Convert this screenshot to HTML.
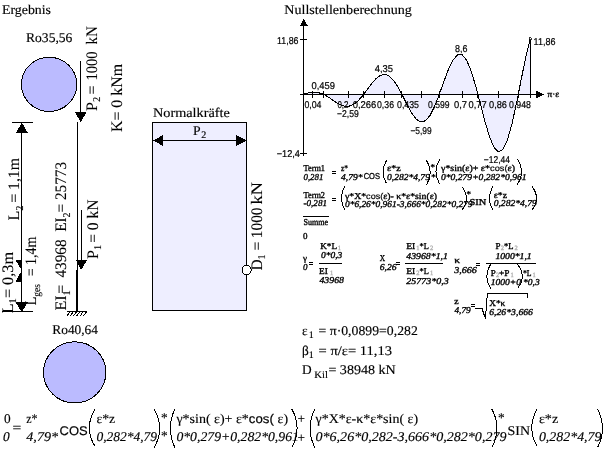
<!DOCTYPE html>
<html><head><meta charset="utf-8"><title>Ergebnis</title>
<style>
html,body{margin:0;padding:0;background:#fff;}
body{width:607px;height:452px;overflow:hidden;}
svg{display:block;will-change:transform;shape-rendering:crispEdges;}
text{font-family:'Liberation Serif', serif;fill:#000;white-space:pre;text-rendering:geometricPrecision;stroke:#000;stroke-width:0.15px;}
text.sm{stroke-width:0.35px;}
text.v{stroke-width:0.1px;}
text.a,tspan.a{font-family:'Liberation Sans', sans-serif;stroke-width:0.2px;}
</style></head><body>
<svg width="607" height="452" viewBox="0 0 607 452">
<rect width="607" height="452" fill="#fff"/>
<text x="2" y="13.5" font-size="13.33" textLength="49" lengthAdjust="spacingAndGlyphs">Ergebnis</text>
<text x="26" y="41.5" font-size="13.33" textLength="46.4" lengthAdjust="spacingAndGlyphs">Ro35,56</text>
<ellipse cx="49.15" cy="84.35" rx="27.7" ry="27.1" fill="#bbbbff" stroke="#000" stroke-width="1"/>
<text x="52.3" y="333.5" font-size="13.33" textLength="45.7" lengthAdjust="spacingAndGlyphs">Ro40,64</text>
<ellipse cx="74.7" cy="372.4" rx="31.2" ry="30.6" fill="#bbbbff" stroke="#000" stroke-width="1"/>
<line x1="80.5" y1="61" x2="80.5" y2="113" stroke="#000" stroke-width="1"/>
<polygon points="75,112 86.5,112 80.7,122.3" fill="#000" stroke="none"/>
<line x1="77.5" y1="122" x2="77.5" y2="270" stroke="#000" stroke-width="1"/>
<line x1="77" y1="270" x2="77" y2="312" stroke="#000" stroke-width="2"/>
<line x1="81.2" y1="209.5" x2="81.2" y2="261" stroke="#000" stroke-width="1"/>
<polygon points="76,260.2 87,260.2 81.2,270" fill="#000" stroke="none"/>
<line x1="67" y1="311.5" x2="87" y2="311.5" stroke="#000" stroke-width="1"/>
<line x1="69.8" y1="312" x2="67.0" y2="315.8" stroke="#000" stroke-width="1"/>
<line x1="73.1" y1="312" x2="70.3" y2="315.8" stroke="#000" stroke-width="1"/>
<line x1="76.39999999999999" y1="312" x2="73.6" y2="315.8" stroke="#000" stroke-width="1"/>
<line x1="79.69999999999999" y1="312" x2="76.89999999999999" y2="315.8" stroke="#000" stroke-width="1"/>
<line x1="83.0" y1="312" x2="80.2" y2="315.8" stroke="#000" stroke-width="1"/>
<line x1="86.3" y1="312" x2="83.5" y2="315.8" stroke="#000" stroke-width="1"/>
<line x1="21.5" y1="122" x2="21.5" y2="311" stroke="#000" stroke-width="1"/>
<line x1="12" y1="122.5" x2="33" y2="122.5" stroke="#000" stroke-width="1"/>
<polygon points="21.8,122.5 16,133 27.8,133" fill="#000" stroke="none"/>
<line x1="2" y1="311.5" x2="32.5" y2="311.5" stroke="#000" stroke-width="1"/>
<polygon points="15,301.5 28.3,301.5 21.7,312" fill="#000" stroke="none"/>
<polygon points="15.6,260 22,260 22,271" fill="#000" stroke="none"/>
<polygon points="15.6,281.5 22,281.5 22,270" fill="#000" stroke="none"/>
<text class="v" transform="translate(96.7 111) rotate(-90)" font-size="16">P<tspan font-size="10.5" dy="3.5">2</tspan></text>
<text class="v" transform="translate(96.7 94.4) rotate(-90)" font-size="16">=</text>
<text class="v" transform="translate(96.7 80.4) rotate(-90)" font-size="16" textLength="29" lengthAdjust="spacingAndGlyphs">1000</text>
<text class="v" transform="translate(96.7 44.5) rotate(-90)" font-size="16" textLength="18.3" lengthAdjust="spacingAndGlyphs">kN</text>
<text class="v" transform="translate(121.5 132) rotate(-90)" font-size="16" textLength="68" lengthAdjust="spacingAndGlyphs">K= 0 kNm</text>
<text class="v" transform="translate(12.8 313.2) rotate(-90)" font-size="16">L</text>
<text class="v" transform="translate(12.8 303.4) rotate(-90)" font-size="16" textLength="51.4" lengthAdjust="spacingAndGlyphs"><tspan font-size="10.5" dy="3.5">1</tspan><tspan dy="-3.5">= 0,3m</tspan></text>
<text class="v" transform="translate(19.2 220.5) rotate(-90)" font-size="16">L<tspan font-size="10.5" dy="3.5">2</tspan></text>
<text class="v" transform="translate(19.2 202.8) rotate(-90)" font-size="16" textLength="44.8" lengthAdjust="spacingAndGlyphs">= 1,1m</text>
<text class="v" transform="translate(36.3 305.6) rotate(-90)" font-size="16" textLength="21.6" lengthAdjust="spacingAndGlyphs">L<tspan font-size="10.5" dy="3.5">ges</tspan></text>
<text class="v" transform="translate(36.3 276.3) rotate(-90)" font-size="16" textLength="39.7" lengthAdjust="spacingAndGlyphs">= 1,4m</text>
<text class="v" transform="translate(66.4 310.5) rotate(-90)" font-size="16">EI<tspan font-size="10.5" dy="3.5">1</tspan><tspan dy="-3.5" dx="-3.6">=</tspan></text>
<text class="v" transform="translate(66.4 277.6) rotate(-90)" font-size="16" textLength="38.2" lengthAdjust="spacingAndGlyphs">43968</text>
<text class="v" transform="translate(66.4 231.8) rotate(-90)" font-size="16" textLength="69.8" lengthAdjust="spacingAndGlyphs">EI<tspan font-size="10.5" dy="3.5">2</tspan><tspan dy="-3.5">= 25773</tspan></text>
<text class="v" transform="translate(97.8 259) rotate(-90)" font-size="16">P<tspan font-size="10.5" dy="3.5">1</tspan></text>
<text class="v" transform="translate(97.8 242.8) rotate(-90)" font-size="16" textLength="43.2" lengthAdjust="spacingAndGlyphs">= 0 kN</text>
<text x="153" y="116.8" font-size="13.33" textLength="76.8" lengthAdjust="spacingAndGlyphs">Normalkräfte</text>
<rect x="152.5" y="122.5" width="94" height="188" fill="#eeeeff" stroke="#000" stroke-width="1"/>
<line x1="156" y1="140.5" x2="244" y2="140.5" stroke="#000" stroke-width="1"/>
<polygon points="152.8,140.5 163,135.2 163,145.8" fill="#000" stroke="none"/>
<polygon points="247,140.5 236.4,135.2 236.4,145.8" fill="#000" stroke="none"/>
<text x="193" y="134.7" font-size="13.33" textLength="7.6" lengthAdjust="spacingAndGlyphs">P</text>
<text x="201.3" y="138.4" font-size="10">2</text>
<circle cx="246.6" cy="270" r="4.6" fill="#fff" stroke="#000" stroke-width="1"/>
<text class="v" transform="translate(261.5 270.5) rotate(-90)" font-size="16" textLength="63" lengthAdjust="spacingAndGlyphs">D<tspan font-size="10.5" dy="3.5">1</tspan><tspan dy="-3.5"> = 1000</tspan></text>
<text class="v" transform="translate(261.5 204.4) rotate(-90)" font-size="16" textLength="22.4" lengthAdjust="spacingAndGlyphs">kN</text>
<text x="284.3" y="13.5" font-size="13.33" textLength="127.5" lengthAdjust="spacingAndGlyphs">Nullstellenberechnung</text>
<path d="M303.2 94.4 L307.74 93.09 L312.28 92.28 L316.81 92.33 L321.35 93.46 L323.6 94.4 L325.89 95.6 L330.43 98.49 L334.97 101.62 L339.5 104.39 L344.04 106.14 L348.58 106.37 L353.12 104.76 L357.66 101.29 L362.19 96.25 L363.56 94.52 L366.73 90.26 L371.27 84.15 L375.81 78.87 L380.35 75.35 L384.88 74.29 L389.42 76.12 L393.96 80.82 L398.5 87.95 L401.9 94.37 L403.04 96.62 L407.57 105.66 L412.11 113.75 L416.65 119.57 L421.19 122.07 L425.73 120.59 L430.26 115.04 L434.8 105.89 L439.11 94.84 L439.34 94.21 L443.88 81.51 L448.42 69.55 L452.95 60.13 L457.49 54.81 L462.03 54.68 L466.57 60.15 L471.11 70.9 L475.64 85.81 L477.91 94.3 L480.18 103.14 L484.72 120.67 L489.26 136.04 L493.8 147.03 L498.33 151.88 L502.87 149.56 L507.41 139.96 L511.95 123.94 L516.49 103.25 L518.3 94.2 L521.02 80.35 L525.56 58.12 L530.1 39.47 L530.1 94.4 L303.2 94.4 Z" fill="#eeeeff" stroke="none"/>
<path d="M303.2 94.4 L307.74 93.09 L312.28 92.28 L316.81 92.33 L321.35 93.46 L323.6 94.4 L325.89 95.6 L330.43 98.49 L334.97 101.62 L339.5 104.39 L344.04 106.14 L348.58 106.37 L353.12 104.76 L357.66 101.29 L362.19 96.25 L363.56 94.52 L366.73 90.26 L371.27 84.15 L375.81 78.87 L380.35 75.35 L384.88 74.29 L389.42 76.12 L393.96 80.82 L398.5 87.95 L401.9 94.37 L403.04 96.62 L407.57 105.66 L412.11 113.75 L416.65 119.57 L421.19 122.07 L425.73 120.59 L430.26 115.04 L434.8 105.89 L439.11 94.84 L439.34 94.21 L443.88 81.51 L448.42 69.55 L452.95 60.13 L457.49 54.81 L462.03 54.68 L466.57 60.15 L471.11 70.9 L475.64 85.81 L477.91 94.3 L480.18 103.14 L484.72 120.67 L489.26 136.04 L493.8 147.03 L498.33 151.88 L502.87 149.56 L507.41 139.96 L511.95 123.94 L516.49 103.25 L518.3 94.2 L521.02 80.35 L525.56 58.12 L530.1 39.47" fill="none" stroke="#000" stroke-width="1" stroke-linejoin="round"/>
<line x1="530.5" y1="40" x2="530.5" y2="94.4" stroke="#000" stroke-width="1"/>
<circle cx="530.3" cy="38.6" r="1.3" fill="#fff" stroke="#000" stroke-width="0.8"/>
<line x1="303.5" y1="25" x2="303.5" y2="156" stroke="#000" stroke-width="1"/>
<polygon points="303.8,18.5 300,25.6 307.6,25.6" fill="#000" stroke="none"/>
<line x1="300" y1="94.5" x2="537" y2="94.5" stroke="#000" stroke-width="1"/>
<polygon points="544,94.5 536.3,90.6 536.3,98.5" fill="#000" stroke="none"/>
<line x1="300" y1="39.5" x2="307" y2="39.5" stroke="#000" stroke-width="1"/>
<line x1="300" y1="153.5" x2="307" y2="153.5" stroke="#000" stroke-width="1"/>
<line x1="312.5" y1="91" x2="312.5" y2="98" stroke="#000" stroke-width="1"/>
<line x1="323.5" y1="91" x2="323.5" y2="98" stroke="#000" stroke-width="1"/>
<line x1="348.5" y1="91" x2="348.5" y2="98" stroke="#000" stroke-width="1"/>
<line x1="363.5" y1="91" x2="363.5" y2="98" stroke="#000" stroke-width="1"/>
<line x1="384.5" y1="91" x2="384.5" y2="98" stroke="#000" stroke-width="1"/>
<line x1="401.5" y1="91" x2="401.5" y2="98" stroke="#000" stroke-width="1"/>
<line x1="421.5" y1="91" x2="421.5" y2="98" stroke="#000" stroke-width="1"/>
<line x1="439.5" y1="91" x2="439.5" y2="98" stroke="#000" stroke-width="1"/>
<line x1="462.5" y1="91" x2="462.5" y2="98" stroke="#000" stroke-width="1"/>
<line x1="477.5" y1="91" x2="477.5" y2="98" stroke="#000" stroke-width="1"/>
<line x1="498.5" y1="91" x2="498.5" y2="98" stroke="#000" stroke-width="1"/>
<line x1="518.5" y1="91" x2="518.5" y2="98" stroke="#000" stroke-width="1"/>
<line x1="530.5" y1="91" x2="530.5" y2="98" stroke="#000" stroke-width="1"/>
<text x="277" y="44" font-size="9.9" class="a" textLength="21.5" lengthAdjust="spacingAndGlyphs">11,86</text>
<text x="276.7" y="157" font-size="9.9" class="a" textLength="23.3" lengthAdjust="spacingAndGlyphs">−12,4</text>
<text x="304.4" y="108" font-size="9.9" class="a" textLength="17.1" lengthAdjust="spacingAndGlyphs">0,04</text>
<text x="311.5" y="89" font-size="9.9" class="a" textLength="23.5" lengthAdjust="spacingAndGlyphs">0,459</text>
<text x="337.4" y="108" font-size="9.9" class="a" textLength="11.1" lengthAdjust="spacingAndGlyphs">0,2</text>
<text x="337" y="117.3" font-size="9.9" class="a" textLength="21.8" lengthAdjust="spacingAndGlyphs">−2,59</text>
<text x="352.7" y="108" font-size="9.9" class="a" textLength="23.7" lengthAdjust="spacingAndGlyphs">0,266</text>
<text x="377" y="108" font-size="9.9" class="a" textLength="17" lengthAdjust="spacingAndGlyphs">0,36</text>
<text x="374.7" y="72.3" font-size="9.9" class="a" textLength="18.3" lengthAdjust="spacingAndGlyphs">4,35</text>
<text x="397" y="108" font-size="9.9" class="a" textLength="22" lengthAdjust="spacingAndGlyphs">0,435</text>
<text x="410.4" y="134" font-size="9.9" class="a" textLength="21.3" lengthAdjust="spacingAndGlyphs">−5,99</text>
<text x="428" y="108" font-size="9.9" class="a" textLength="21.5" lengthAdjust="spacingAndGlyphs">0,599</text>
<text x="454" y="108" font-size="9.9" class="a" textLength="13" lengthAdjust="spacingAndGlyphs">0,7</text>
<text x="455" y="51.5" font-size="9.9" class="a" textLength="12.4" lengthAdjust="spacingAndGlyphs">8,6</text>
<text x="468.6" y="108" font-size="9.9" class="a" textLength="18.1" lengthAdjust="spacingAndGlyphs">0,77</text>
<text x="489" y="108" font-size="9.9" class="a" textLength="18" lengthAdjust="spacingAndGlyphs">0,86</text>
<text x="509" y="108" font-size="9.9" class="a" textLength="22" lengthAdjust="spacingAndGlyphs">0,948</text>
<text x="533.6" y="44.7" font-size="9.9" class="a" textLength="21.9" lengthAdjust="spacingAndGlyphs">11,86</text>
<text x="483.8" y="162.8" font-size="9.9" class="a" textLength="26.2" lengthAdjust="spacingAndGlyphs">−12,44</text>
<text x="547.5" y="96.7" font-size="9" class="sm" textLength="11.7" lengthAdjust="spacingAndGlyphs">π·ε</text>
<text x="303.5" y="170.6" font-size="9" class="sm" textLength="21.5" lengthAdjust="spacingAndGlyphs">Term1</text>
<text x="303.5" y="179.8" font-size="9" class="sm" font-style="italic" textLength="19.8" lengthAdjust="spacingAndGlyphs">0,281</text>
<path d="M332 171.5h4M332 173.5h4" stroke="#000" stroke-width="1" fill="none"/>
<text x="341" y="170.6" font-size="9" class="sm" textLength="7" lengthAdjust="spacingAndGlyphs">z*</text>
<text x="341" y="179.8" font-size="9" class="sm" font-style="italic" textLength="21.5" lengthAdjust="spacingAndGlyphs">4,79*</text>
<text x="363.7" y="179.1" font-size="8.6" class="a" textLength="16.3" lengthAdjust="spacingAndGlyphs" style="stroke-width:0.3px">COS</text>
<path d="M386.5 160.5 Q379.5 172.0 386.5 183.5" fill="none" stroke="#000" stroke-width="1"/>
<text x="387" y="170.6" font-size="9" class="sm" textLength="13.7" lengthAdjust="spacingAndGlyphs">ε*z</text>
<text x="387" y="179.8" font-size="9" class="sm" font-style="italic" textLength="42.9" lengthAdjust="spacingAndGlyphs">0,282*4,79</text>
<path d="M426.5 160.3 Q434.1 172.55 426.5 184.8" fill="none" stroke="#000" stroke-width="1"/>
<text x="430.6" y="170.3" font-size="9" class="sm">*</text>
<text x="431.3" y="180" font-size="9" class="sm">*</text>
<path d="M439.5 159.5 Q432.5 171.65 439.5 183.8" fill="none" stroke="#000" stroke-width="1"/>
<text x="441" y="170.8" font-size="9" class="sm" textLength="74" lengthAdjust="spacingAndGlyphs">γ*sin(ε)+ ε*<tspan class="a" font-size="8.4">cos(</tspan>ε)</text>
<text x="441" y="180" font-size="9" class="sm" font-style="italic" textLength="85.5" lengthAdjust="spacingAndGlyphs">0*0,279+0,282*0,961</text>
<path d="M517.3 159 Q525.7 171.8 517.3 184.6" fill="none" stroke="#000" stroke-width="1"/>
<text x="303.5" y="197.5" font-size="9" class="sm" textLength="21.5" lengthAdjust="spacingAndGlyphs">Term2</text>
<text x="303.5" y="206.2" font-size="9" class="sm" font-style="italic" textLength="23.5" lengthAdjust="spacingAndGlyphs">-0,281</text>
<path d="M332 198.5h4M332 200.5h4" stroke="#000" stroke-width="1" fill="none"/>
<path d="M344.7 186 Q338.3 197.9 344.7 209.8" fill="none" stroke="#000" stroke-width="1"/>
<text x="345" y="198.6" font-size="9" class="sm" textLength="92" lengthAdjust="spacingAndGlyphs">γ*X*<tspan class="a" font-size="8.4">cos(</tspan>ε)- κ*ε*sin(ε)</text>
<text x="345" y="206.6" font-size="9" class="sm" font-style="italic" textLength="127.5" lengthAdjust="spacingAndGlyphs">0*6,26*0,961-3,666*0,282*0,279</text>
<path d="M461.8 186.5 Q471.2 198.4 461.8 210.3" fill="none" stroke="#000" stroke-width="1"/>
<text x="466.4" y="197.3" font-size="9" class="sm">*</text>
<text x="469.5" y="204.8" font-size="9" class="sm" textLength="16.8" lengthAdjust="spacingAndGlyphs">SIN</text>
<path d="M492.9 186.5 Q485.70000000000005 198.25 492.9 210" fill="none" stroke="#000" stroke-width="1"/>
<text x="493.7" y="198.4" font-size="9" class="sm" textLength="13.3" lengthAdjust="spacingAndGlyphs">ε*z</text>
<text x="493.7" y="205.6" font-size="9" class="sm" font-style="italic" textLength="43.1" lengthAdjust="spacingAndGlyphs">0,282*4,79</text>
<path d="M532 186.5 Q541.0 198.25 532 210" fill="none" stroke="#000" stroke-width="1"/>
<line x1="303" y1="216.5" x2="328.6" y2="216.5" stroke="#000" stroke-width="1"/>
<text x="303.5" y="225.4" font-size="9" class="sm" textLength="24.5" lengthAdjust="spacingAndGlyphs">Summe</text>
<text x="303" y="239.2" font-size="9" class="sm">0</text>
<text x="303" y="260.6" font-size="9" class="sm">γ</text>
<text x="303" y="269.8" font-size="9" class="sm" font-style="italic">0</text>
<path d="M309 262.5h4M309 264.5h4" stroke="#000" stroke-width="1" fill="none"/>
<text x="320.2" y="248.6" font-size="9" class="sm" textLength="16.8" lengthAdjust="spacingAndGlyphs">K*L</text>
<text x="337.8" y="249.5" font-size="6.5" class="sm" style="fill:#b4b4b4;stroke:#b4b4b4">1</text>
<text x="321" y="258.4" font-size="9" class="sm" font-style="italic" textLength="21.3" lengthAdjust="spacingAndGlyphs">0*0,3</text>
<line x1="319" y1="263.5" x2="342" y2="263.5" stroke="#000" stroke-width="1"/>
<text x="319" y="273.7" font-size="9" class="sm" textLength="8.8" lengthAdjust="spacingAndGlyphs">EI</text>
<text x="330" y="274.7" font-size="6.5" class="sm" style="fill:#b4b4b4;stroke:#b4b4b4">1</text>
<text x="319.4" y="283.2" font-size="9" class="sm" font-style="italic" textLength="24.6" lengthAdjust="spacingAndGlyphs">43968</text>
<text x="379.7" y="261.2" font-size="9" class="sm" textLength="5.3" lengthAdjust="spacingAndGlyphs">X</text>
<text x="379.7" y="270" font-size="9" class="sm" font-style="italic" textLength="16.8" lengthAdjust="spacingAndGlyphs">6,26</text>
<path d="M396.3 262.5h4M396.3 264.5h4" stroke="#000" stroke-width="1" fill="none"/>
<text x="406.3" y="248.8" font-size="9" class="sm" textLength="9.0" lengthAdjust="spacingAndGlyphs">EI</text>
<text x="416.2" y="249.8" font-size="6.5" class="sm" style="fill:#b4b4b4;stroke:#b4b4b4">1</text>
<text x="419.5" y="248.8" font-size="9" class="sm" textLength="9.3" lengthAdjust="spacingAndGlyphs">*L</text>
<text x="430" y="249.8" font-size="6.5" class="sm" style="fill:#b4b4b4;stroke:#b4b4b4">2</text>
<text x="406.3" y="258.9" font-size="9" class="sm" font-style="italic" textLength="41.6" lengthAdjust="spacingAndGlyphs">43968*1,1</text>
<line x1="405.4" y1="263.5" x2="443" y2="263.5" stroke="#000" stroke-width="1"/>
<text x="406.3" y="273.9" font-size="9" class="sm" textLength="9.0" lengthAdjust="spacingAndGlyphs">EI</text>
<text x="416.2" y="274.9" font-size="6.5" class="sm" style="fill:#b4b4b4;stroke:#b4b4b4">2</text>
<text x="419.5" y="273.9" font-size="9" class="sm" textLength="9.3" lengthAdjust="spacingAndGlyphs">*L</text>
<text x="430" y="274.9" font-size="6.5" class="sm" style="fill:#b4b4b4;stroke:#b4b4b4">1</text>
<text x="406.3" y="283.7" font-size="9" class="sm" font-style="italic" textLength="42.5" lengthAdjust="spacingAndGlyphs">25773*0,3</text>
<text x="454.2" y="263" font-size="9" class="sm" textLength="5.8" lengthAdjust="spacingAndGlyphs">κ</text>
<text x="454.2" y="272.5" font-size="9" class="sm" font-style="italic" textLength="22.7" lengthAdjust="spacingAndGlyphs">3,666</text>
<path d="M476.3 263.5h4M476.3 265.5h4" stroke="#000" stroke-width="1" fill="none"/>
<text x="495.4" y="248.8" font-size="9" class="sm">P</text>
<text x="500.8" y="249.8" font-size="6.5" class="sm" style="fill:#b4b4b4;stroke:#b4b4b4">2</text>
<text x="504" y="248.8" font-size="9" class="sm" textLength="9.5" lengthAdjust="spacingAndGlyphs">*L</text>
<text x="514.4" y="249.8" font-size="6.5" class="sm" style="fill:#b4b4b4;stroke:#b4b4b4">2</text>
<text x="495.4" y="258.5" font-size="9" class="sm" font-style="italic" textLength="36.3" lengthAdjust="spacingAndGlyphs">1000*1,1</text>
<line x1="486" y1="263.5" x2="536.2" y2="263.5" stroke="#000" stroke-width="1"/>
<path d="M490.6 264.2 Q483.0 276.35 490.6 288.5" fill="none" stroke="#000" stroke-width="1"/>
<text x="490.7" y="275.5" font-size="9" class="sm">P</text>
<text x="496" y="276.5" font-size="6.5" class="sm" style="fill:#b4b4b4;stroke:#b4b4b4">2</text>
<text x="499" y="275.5" font-size="9" class="sm" textLength="10.5" lengthAdjust="spacingAndGlyphs">+P</text>
<text x="510.6" y="276.5" font-size="6.5" class="sm" style="fill:#b4b4b4;stroke:#b4b4b4">1</text>
<text x="490.7" y="284.8" font-size="9" class="sm" font-style="italic" textLength="30.3" lengthAdjust="spacingAndGlyphs">1000+0</text>
<path d="M517.5 264.5 Q527.0999999999999 276.5 517.5 288.5" fill="none" stroke="#000" stroke-width="1"/>
<text x="522.9" y="275.5" font-size="9" class="sm" textLength="8.6" lengthAdjust="spacingAndGlyphs">*L</text>
<text x="532.5" y="276.5" font-size="6.5" class="sm" style="fill:#b4b4b4;stroke:#b4b4b4">1</text>
<text x="523" y="284.8" font-size="9" class="sm" font-style="italic" textLength="16.7" lengthAdjust="spacingAndGlyphs">*0,3</text>
<text x="454.2" y="303.7" font-size="9" class="sm" textLength="4.4" lengthAdjust="spacingAndGlyphs">z</text>
<text x="454.4" y="313.1" font-size="9" class="sm" font-style="italic" textLength="16.4" lengthAdjust="spacingAndGlyphs">4,79</text>
<path d="M471 304.5h4M471 306.5h4" stroke="#000" stroke-width="1" fill="none"/>
<path d="M475 308.5 H482 L485.4 318.5 L487.4 293.5 H527.5 V297.5" fill="none" stroke="#000" stroke-width="1"/>
<text x="489.2" y="305.5" font-size="9" class="sm" textLength="16.0" lengthAdjust="spacingAndGlyphs">X*κ</text>
<text x="489.2" y="315.3" font-size="9" class="sm" font-style="italic" textLength="43.8" lengthAdjust="spacingAndGlyphs">6,26*3,666</text>
<text x="302" y="334.7" font-size="13.33">ε</text>
<text x="308.8" y="338" font-size="10">1</text>
<text x="318.5" y="334.7" font-size="13.33" textLength="99.3" lengthAdjust="spacingAndGlyphs">= π·0,0899=0,282</text>
<text x="302" y="354.5" font-size="13.33">β</text>
<text x="308.8" y="357.8" font-size="10">1</text>
<text x="318.5" y="354.5" font-size="13.33" textLength="73.6" lengthAdjust="spacingAndGlyphs">= π/ε= 11,13</text>
<text x="302" y="374.2" font-size="13.33">D</text>
<text x="314.3" y="378" font-size="10" textLength="13.7" lengthAdjust="spacingAndGlyphs">Kil</text>
<text x="328.4" y="374.2" font-size="13.33" textLength="67.4" lengthAdjust="spacingAndGlyphs">= 38948 kN</text>
<text x="4" y="423.3" font-size="13.33">0</text>
<text x="3" y="440.8" font-size="13.33" font-style="italic">0</text>
<text x="12.5" y="431.5" font-size="13.33" textLength="8.8" lengthAdjust="spacingAndGlyphs">=</text>
<text x="26.3" y="423.3" font-size="13.33" textLength="11.3" lengthAdjust="spacingAndGlyphs">z*</text>
<text x="26.3" y="440.8" font-size="13.33" font-style="italic" textLength="31.8" lengthAdjust="spacingAndGlyphs">4,79*</text>
<text x="59.6" y="435" font-size="12.6" class="a" textLength="28.1" lengthAdjust="spacingAndGlyphs">COS</text>
<path d="M94.8 409.5 Q83.8 427.75 94.8 446" fill="none" stroke="#000" stroke-width="1"/>
<text x="96.4" y="423.3" font-size="13.33" textLength="18.8" lengthAdjust="spacingAndGlyphs">ε*z</text>
<text x="96.4" y="440.8" font-size="13.33" font-style="italic" textLength="60.7" lengthAdjust="spacingAndGlyphs">0,282*4,79</text>
<path d="M154.2 409 Q165.2 428.25 154.2 447.5" fill="none" stroke="#000" stroke-width="1"/>
<text x="161" y="421.5" font-size="13.33">*</text>
<text x="161" y="439.8" font-size="13.33">*</text>
<path d="M174.8 409 Q166.0 428.25 174.8 447.5" fill="none" stroke="#000" stroke-width="1"/>
<text x="176.4" y="423.4" font-size="13.33" textLength="111.7" lengthAdjust="spacingAndGlyphs">γ*sin( ε)+ ε*<tspan class="a" font-size="12.6">cos( </tspan>ε)</text>
<text x="176.4" y="441.2" font-size="13.33" font-style="italic" textLength="122.5" lengthAdjust="spacingAndGlyphs">0*0,279+0,282*0,961</text>
<path d="M291.8 409 Q302.40000000000003 428.25 291.8 447.5" fill="none" stroke="#000" stroke-width="1"/>
<text x="297.6" y="423" font-size="13.33">+</text>
<text x="297.6" y="441.5" font-size="13.33">+</text>
<path d="M314.8 409 Q305.2 428.25 314.8 447.5" fill="none" stroke="#000" stroke-width="1"/>
<text x="315.5" y="423.3" font-size="13.33" textLength="102.6" lengthAdjust="spacingAndGlyphs">γ*X*ε-κ*ε*sin( ε)</text>
<text x="315.5" y="440.8" font-size="13.33" font-style="italic" textLength="191.0" lengthAdjust="spacingAndGlyphs">0*6,26*0,282-3,666*0,282*0,279</text>
<path d="M491.8 409 Q502.2 428.25 491.8 447.5" fill="none" stroke="#000" stroke-width="1"/>
<text x="498" y="422" font-size="13.33">*</text>
<text x="507.6" y="435" font-size="13.33" textLength="22.5" lengthAdjust="spacingAndGlyphs">SIN</text>
<path d="M536.8 409.5 Q526.8 427.75 536.8 446" fill="none" stroke="#000" stroke-width="1"/>
<text x="538.9" y="423.3" font-size="13.33" textLength="19.3" lengthAdjust="spacingAndGlyphs">ε*z</text>
<text x="538.9" y="440.8" font-size="13.33" font-style="italic" textLength="62.6" lengthAdjust="spacingAndGlyphs">0,282*4,79</text>
<path d="M597.6 409 Q607.1999999999999 428.25 597.6 447.5" fill="none" stroke="#000" stroke-width="1"/>
</svg></body></html>
